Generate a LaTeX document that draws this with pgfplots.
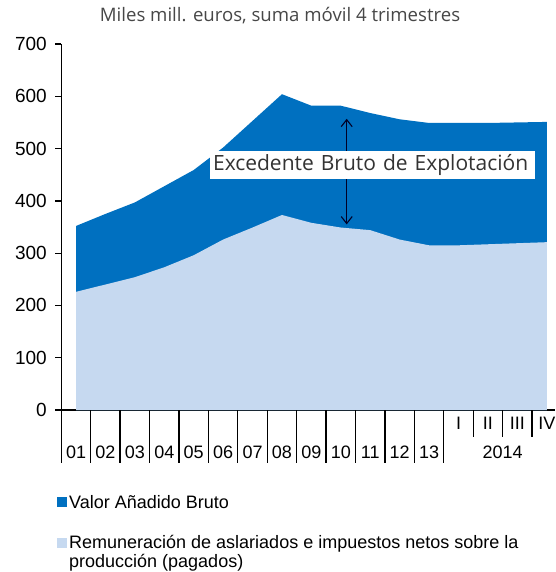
\documentclass[border=0pt]{standalone}
\usepackage{fontspec}
\setmainfont{Liberation Sans}
\newfontfamily\osans{Open Sans}
\usepackage{pgfplots}
\pgfplotsset{compat=1.18}
\usetikzlibrary{arrows.meta}
\definecolor{vab}{HTML}{0070C0}
\definecolor{rem}{HTML}{C6D9F0}

\begin{document}
\begin{tikzpicture}
\path[use as bounding box] (0,0) rectangle (555pt,-572pt);
\node[font=\osans\fontsize{18.6}{21}\selectfont, text=black!72] at (280pt,-16pt)
  {Miles mill. euros, suma móvil 4 trimestres};
\begin{axis}[
  at={(61.3pt,-410pt)}, anchor=south west,
  scale only axis, width=493.7pt, height=366pt,
  xmin=-0.5, xmax=16.28, ymin=0, ymax=700,
  axis lines=left,
  axis line style={-, line width=1.3pt},
  clip=false,
  tick align=outside, major tick length=6pt,
  ytick={0,100,...,700},
  ytick style={line width=1.3pt, black},
  yticklabel style={font=\fontsize{19}{21}\selectfont, xshift=-5pt},
  /pgf/number format/assume math mode=true,
  xtick={0,...,12},
  xticklabels={01,02,03,04,05,06,07,08,09,10,11,12,13},
  xtick style={draw=none},
  xticklabel style={font=\fontsize{18}{20}\selectfont, anchor=center, yshift=-36pt},
  extra x ticks={13,14,15,16},
  extra x tick labels={I,II,III,IV},
  extra x tick style={tick style={draw=none}, xticklabel style={yshift=29pt}},
  legend style={at={(axis description cs:-0.0148,-0.221)}, anchor=north west,
    draw=none, fill=none, font=\fontsize{18}{18.6}\selectfont,
    row sep=22pt, column sep=0pt,
    cells={anchor=west, align=left}, nodes={inner xsep=2pt}},
  legend cell align=left,
]
\addplot[fill=vab, draw=none,
  legend image code/.code={\fill[vab] (0pt,-5pt) rectangle (10pt,5pt);}]
  coordinates {
  (0,352) (1,375) (2,397) (3,428) (4,459) (5,502) (6,553) (7,604)
  (8,582) (9,582) (10,568) (11,556) (12,549) (13,549) (14,549) (15,550) (16,551)
  } \closedcycle;
\addlegendentry{Valor Añadido Bruto}
\addplot[fill=rem, draw=none,
  legend image code/.code={\fill[rem] (0pt,4.3pt) rectangle (10pt,14.3pt);}]
  coordinates {
  (0,226) (1,240) (2,254) (3,273) (4,296) (5,326) (6,349) (7,373)
  (8,358) (9,349) (10,344) (11,326) (12,315) (13,315) (14,317) (15,319) (16,321)
  } \closedcycle;
\addlegendentry{Remuneración de aslariados e impuestos netos sobre la\\producción (pagados)}

% separadores del eje x
\pgfplotsinvokeforeach{-0.5,0.5,1.5,2.5,3.5,4.5,5.5,6.5,7.5,8.5,9.5,10.5,11.5,12.5}{
  \draw[line width=1.3pt] (axis cs:#1,0) -- ++(0pt,-53pt);
}
\pgfplotsinvokeforeach{13.5,14.5,15.5}{
  \draw[line width=1.3pt] (axis cs:#1,0) -- ++(0pt,-27pt);
}
\node[font=\fontsize{18}{20}\selectfont] at (axis cs:14.5,0) [yshift=-42pt] {2014};

% anotacion
\draw[{Straight Barb[length=7pt,width=11pt]}-{Straight Barb[length=7pt,width=11pt]},
  line width=1.1pt, black!85!blue] (axis cs:9.2,557) -- (axis cs:9.2,355);
\node[fill=white, inner xsep=3pt, inner ysep=0pt, minimum height=28pt,
  text width=319pt, align=left, text=black!80,
  font=\osans\fontsize{21}{24}\selectfont] at (axis cs:10.08,468)
  {Excedente Bruto de Explotación};
\end{axis}
\end{tikzpicture}
\end{document}
